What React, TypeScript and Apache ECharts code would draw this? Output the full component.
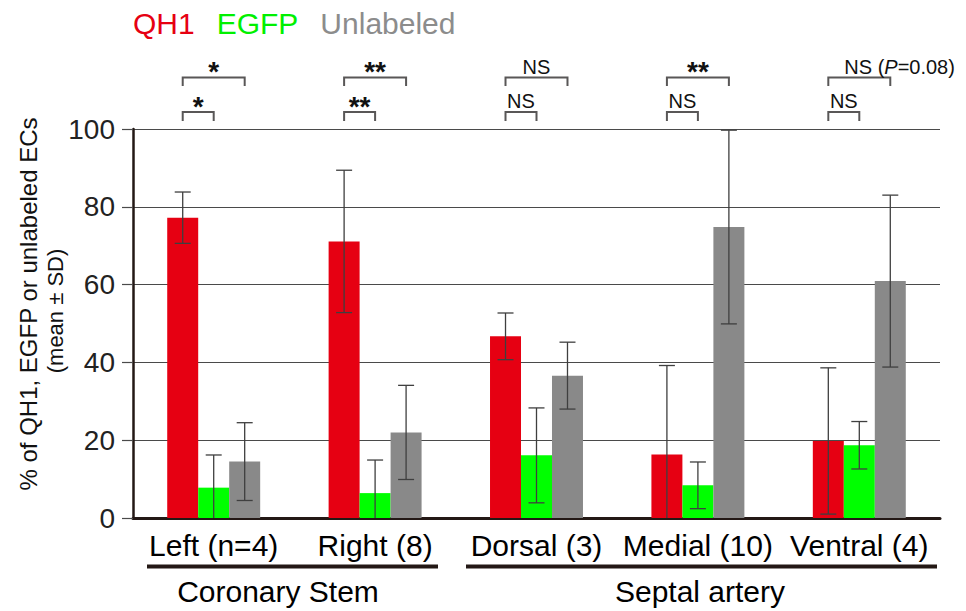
import React, { useEffect, useRef } from 'react';
import * as echarts from 'echarts';

const categories = ['Left (n=4)', 'Right (8)', 'Dorsal (3)', 'Medial (10)', 'Ventral (4)'];
const seriesNames = ['QH1', 'EGFP', 'Unlabeled'];
const qh1Mean = [77.2, 71.1, 46.7, 16.3, 19.8];
const qh1SD = [6.6, 18.3, 6.0, 22.9, 18.8];
const egfpMean = [7.8, 6.4, 16.1, 8.4, 18.7];
const egfpSD = [8.4, 8.5, 12.2, 6.0, 6.1];
const unlabeledMean = [14.5, 22.0, 36.6, 74.8, 60.9];
const unlabeledSD = [10.0, 12.1, 8.6, 24.9, 22.1];
const yMin = 0;
const yMax = 100;
const yInterval = 20;
const sigQH1vsEGFP = ['*', '**', 'NS', 'NS', 'NS'];
const sigQH1vsUnlabeled = ['*', '**', 'NS', '**', 'NS ({i|P}=0.08)'];
const regionLabels = ['Coronary Stem', 'Septal artery'];
const yTitle = ['% of QH1, EGFP or unlabeled ECs', '(mean ± SD)'];

const FONT = '"Liberation Sans", Arial, Helvetica, sans-serif';
const COLORS = ['#E60012', '#00FF00', '#898989'];
const LEGEND_COLORS = ['#E60012', '#00F000', '#8C8C8C'];
const DARK = '#231815';
const BAR_W = 0.192;

export default function App() {
  const ref = useRef<HTMLDivElement>(null);
  useEffect(() => {
    document.body.style.margin = '0';
    const chart = echarts.init(ref.current!, null, { renderer: 'svg' });
    const means = [qh1Mean, egfpMean, unlabeledMean];
    const sds = [qh1SD, egfpSD, unlabeledSD];

    const barSeries = seriesNames.map((name, i) => ({
      name,
      type: 'bar',
      data: means[i],
      barWidth: (BAR_W * 100).toFixed(1) + '%',
      barGap: '0%',
      itemStyle: { color: COLORS[i] },
      z: 2,
    }));

    const errSeries = seriesNames.map((name, i) => ({
      name: name + ' SD',
      type: 'custom',
      silent: true,
      z: 5,
      encode: { x: 0, y: 1 },
      data: categories.map((_, k) => [k, means[i][k], sds[i][k]]),
      renderItem: (params: any, api: any) => {
        const k = api.value(0);
        const m = api.value(1);
        const s = api.value(2);
        const bandW = api.size([1, 0])[0];
        const bw = bandW * BAR_W;
        const cx = api.coord([k, m])[0] + (i - 1) * bw;
        const yTop = api.coord([k, m + s])[1];
        const low = Math.max(0, m - s);
        const yBot = api.coord([k, low])[1];
        const cap = 8;
        const st = { stroke: '#3f3f3f', lineWidth: 1.3 };
        const children: any[] = [
          { type: 'line', shape: { x1: cx, y1: yTop, x2: cx, y2: yBot }, style: st },
          { type: 'line', shape: { x1: cx - cap, y1: yTop, x2: cx + cap, y2: yTop }, style: st },
        ];
        if (m - s >= 0) {
          children.push({ type: 'line', shape: { x1: cx - cap, y1: yBot, x2: cx + cap, y2: yBot }, style: st });
        }
        return { type: 'group', children };
      },
    }));

    chart.setOption({
      animation: false,
      textStyle: { fontFamily: FONT },
      legend: {
        left: 123,
        top: 3,
        itemWidth: 0,
        itemHeight: 0,
        itemGap: 17,
        selectedMode: false,
        data: seriesNames.map((n, i) => ({
          name: n,
          textStyle: { color: LEGEND_COLORS[i], fontSize: 30, fontFamily: FONT },
        })),
      },
      grid: { left: 133, right: 26, top: 129, bottom: 93, containLabel: false },
      xAxis: {
        type: 'category',
        data: categories,
        axisLine: { show: true, lineStyle: { color: DARK, width: 3 } },
        axisTick: { show: false },
        axisLabel: { interval: 0, fontSize: 30, color: '#000', margin: 12, fontFamily: FONT },
      },
      yAxis: {
        type: 'value',
        min: yMin,
        max: yMax,
        interval: yInterval,
        axisLine: { show: true, lineStyle: { color: DARK, width: 2.5 } },
        axisTick: { show: true, length: 11, lineStyle: { color: '#4a4a4a', width: 1.2 } },
        axisLabel: { fontSize: 28, color: '#222', margin: 18, fontFamily: FONT },
        splitLine: { show: true, lineStyle: { color: '#4a4a4a', width: 1.2 } },
      },
      series: [...barSeries, ...errSeries],
    });

    const px = (k: number, v: number) =>
      chart.convertToPixel({ xAxisIndex: 0, yAxisIndex: 0 } as any, [k, v]) as number[];
    const bandW = px(1, 0)[0] - px(0, 0)[0];
    const bw = bandW * BAR_W;
    const brStyle = { stroke: '#595757', lineWidth: 2, fill: null };
    const graphics: any[] = [];

    categories.forEach((_, k) => {
      const cx = px(k, 0)[0];
      const x0 = cx - bw;
      const x1 = cx;
      const x2 = cx + bw;
      graphics.push({
        type: 'polyline',
        shape: { points: [[x0, 121], [x0, 112], [x1, 112], [x1, 121]] },
        style: brStyle,
      });
      graphics.push({
        type: 'polyline',
        shape: { points: [[x0, 86], [x0, 77.5], [x2, 77.5], [x2, 86]] },
        style: brStyle,
      });
      const lower = sigQH1vsEGFP[k];
      const upper = sigQH1vsUnlabeled[k];
      const isStar = (t: string) => t.indexOf('*') === 0;
      graphics.push({
        type: 'text',
        x: (x0 + x1) / 2,
        y: isStar(lower) ? 106 : 101,
        style: {
          text: lower,
          align: 'center',
          verticalAlign: 'middle',
          fontSize: isStar(lower) ? 28 : 20,
          fontWeight: isStar(lower) ? 'bold' : 'normal',
          fontFamily: FONT,
          fill: '#111',
        },
      });
      const long = upper.length > 3;
      graphics.push({
        type: 'text',
        x: long ? (x0 + x2) / 2 - 15 : (x0 + x2) / 2,
        y: isStar(upper) ? 71 : 67,
        style: {
          text: upper,
          align: long ? 'left' : 'center',
          verticalAlign: 'middle',
          fontSize: isStar(upper) ? 28 : 20,
          fontWeight: isStar(upper) ? 'bold' : 'normal',
          fontFamily: FONT,
          fill: '#111',
          rich: { i: { fontStyle: 'italic', fontSize: 20, fontFamily: FONT, fill: '#111' } },
        },
      });
    });

    // region underlines and labels
    graphics.push({ type: 'rect', shape: { x: 147, y: 564.5, width: 291, height: 4 }, style: { fill: DARK } });
    graphics.push({ type: 'rect', shape: { x: 466, y: 564.5, width: 471, height: 4 }, style: { fill: DARK } });
    graphics.push({
      type: 'text', x: 278, y: 591,
      style: { text: regionLabels[0], align: 'center', verticalAlign: 'middle', fontSize: 30, fontFamily: FONT, fill: '#000' },
    });
    graphics.push({
      type: 'text', x: 700, y: 591,
      style: { text: regionLabels[1], align: 'center', verticalAlign: 'middle', fontSize: 30, fontFamily: FONT, fill: '#000' },
    });

    // y axis title
    graphics.push({
      type: 'text', x: 28, y: 304, rotation: Math.PI / 2,
      style: { text: yTitle[0], align: 'center', verticalAlign: 'middle', fontSize: 24, fontFamily: FONT, fill: '#111' },
    });
    graphics.push({
      type: 'text', x: 55, y: 311, rotation: Math.PI / 2,
      style: { text: yTitle[1], align: 'center', verticalAlign: 'middle', fontSize: 22, fontFamily: FONT, fill: '#111' },
    });

    chart.setOption({ graphic: graphics });

    return () => chart.dispose();
  }, []);
  return <div ref={ref} style={{ width: 966, height: 611 }} />;
}
